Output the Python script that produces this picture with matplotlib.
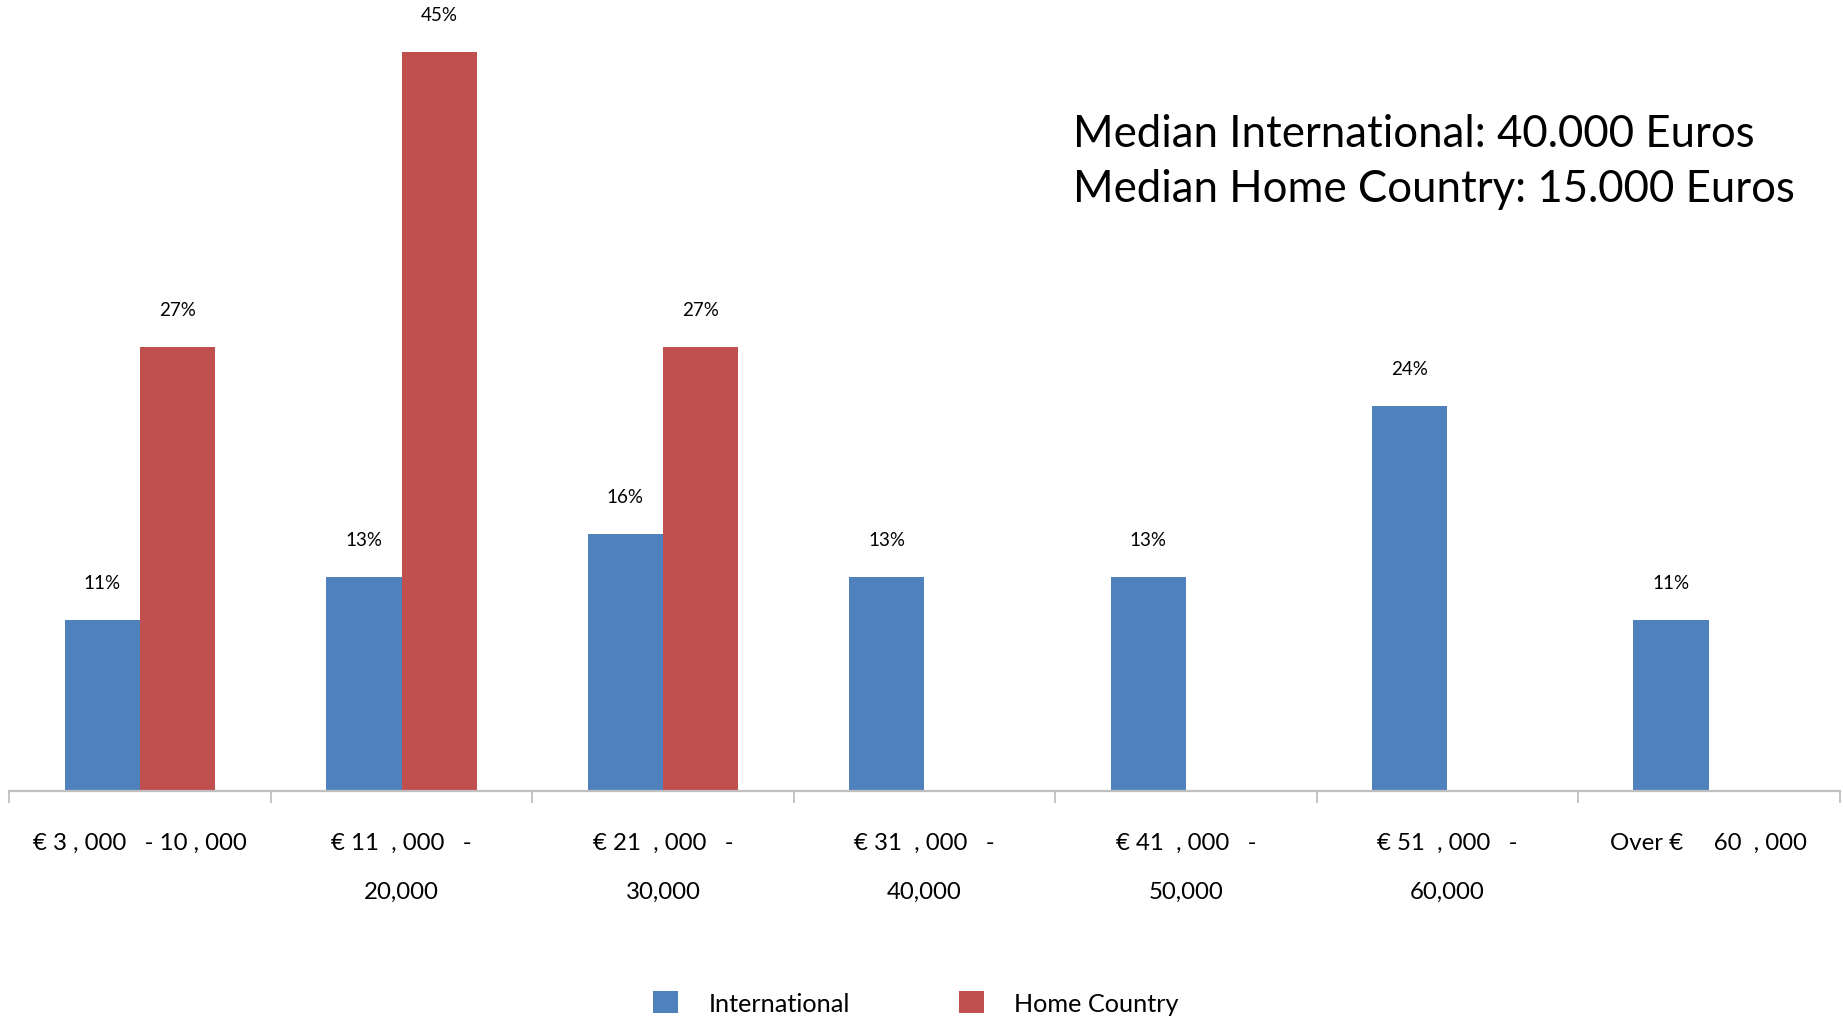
import matplotlib
matplotlib.use("Agg")
import matplotlib.pyplot as plt
from matplotlib.patches import Patch

plt.rcParams["font.family"] = ["Lato", "DejaVu Sans"]

# salary bands (tick labels keep the odd spacing of the original slide)
categories = [
    "€ 3 , 000   - 10 , 000",
    "€ 11  , 000   -\n20,000",
    "€ 21  , 000   -\n30,000",
    "€ 31  , 000   -\n40,000",
    "€ 41  , 000   -\n50,000",
    "€ 51  , 000   -\n60,000",
    "Over €     60  , 000",
]
international = [10.53, 13.16, 15.79, 13.16, 13.16, 23.68, 10.53]  # % of respondents
home_country = [27.27, 45.45, 27.27, 0, 0, 0, 0]
series_names = ["International", "Home Country"]
median_note = "Median International: 40.000 Euros\nMedian Home Country: 15.000 Euros"

BLUE = "#4F81BD"
RED = "#C0504D"

fig = plt.figure(figsize=(18.43, 10.20), dpi=100)
ax = fig.add_axes([9.4 / 1843, 1 - 792 / 1020, (1839.5 - 9.4) / 1843, 792 / 1020])

x = list(range(len(categories)))
w = 0.288
bars_int = ax.bar([i - w / 2 for i in x], international, width=w, color=BLUE)
home_idx = [i for i, v in enumerate(home_country) if v > 0]
home_vals = [home_country[i] for i in home_idx]
bars_home = ax.bar([i + w / 2 for i in home_idx], home_vals, width=w, color=RED)

for rect, v in list(zip(bars_int, international)) + list(zip(bars_home, home_vals)):
    ax.annotate(f"{v:.0f}%", (rect.get_x() + rect.get_width() / 2, v),
                xytext=(0, 27), textcoords="offset points",
                ha="center", va="center", fontsize=13.5)

ax.set_xlim(-0.5, len(categories) - 0.5)
ax.set_ylim(0, 792 / 16.27)

ax.set_xticks(x)
ax.set_xticklabels(categories, fontsize=17.3, linespacing=2.62)
ax.set_xticks([i - 0.5 for i in range(len(categories) + 1)], minor=True)
ax.tick_params(axis="x", which="major", length=0, pad=29.5)
ax.tick_params(axis="x", which="minor", length=8.6, width=1.3, color="#bfbfbf")
ax.set_yticks([])
for side in ("left", "right", "top"):
    ax.spines[side].set_visible(False)
ax.spines["bottom"].set_color("#bfbfbf")
ax.spines["bottom"].set_linewidth(1.6)

fig.text(1073 / 1843, 1 - 162 / 1020, median_note, fontsize=31.5, va="center", ha="left",
         linespacing=1.45)

handles = [Patch(facecolor=BLUE), Patch(facecolor=RED)]
fig.legend(handles, series_names, loc="center left", bbox_to_anchor=(653 / 1843, 1 - 1004 / 1020),
           ncol=2, frameon=False, fontsize=18.2, handlelength=0.98, handleheight=0.98,
           handletextpad=1.21, columnspacing=4.32, borderpad=0, borderaxespad=0)

fig.savefig("out.png", dpi=100)
